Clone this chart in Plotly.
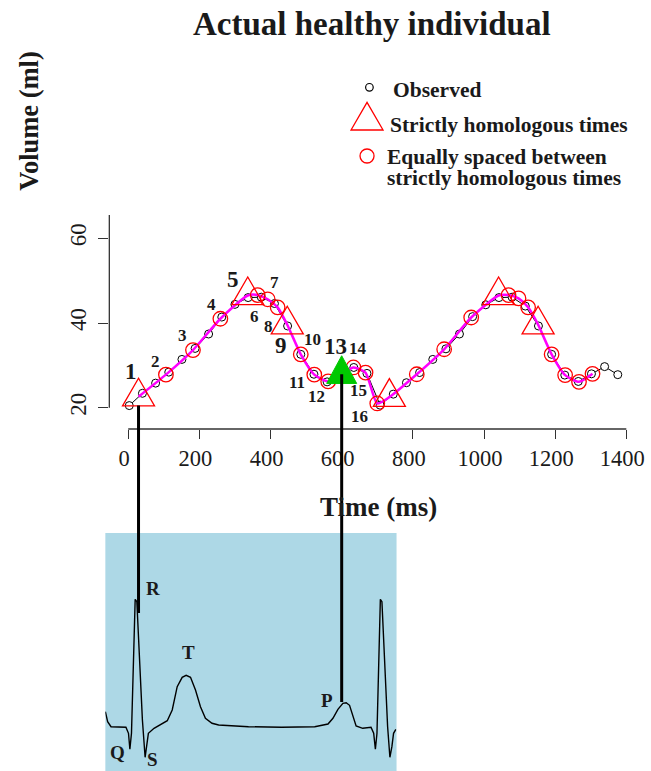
import plotly.graph_objects as go

FONT = "Liberation Serif"
W, H = 651, 771

# ---------------- data ----------------
obs_t = [3, 40, 77, 114, 151, 188, 226, 263, 300, 337, 374, 411, 448, 485, 522, 559, 597, 634, 671,
         708, 745, 782, 819, 856, 893, 931, 968, 1005, 1042, 1079, 1116, 1153, 1190, 1227, 1265, 1302,
         1339, 1376]
obs_v = [20.5, 23.4, 25.8, 28.4, 31.4, 34.0, 37.4, 41.4, 44.4, 46.0, 46.1, 44.6, 39.3, 32.6, 27.9,
         26.1, 28.0, 29.5, 28.1, 20.6, 23.2, 25.9, 28.3, 31.4, 33.9, 37.4, 41.5, 44.3, 46.0, 46.1,
         44.0, 39.3, 32.6, 27.7, 26.2, 28.0, 29.7, 27.8]

hom_t = [29, 336, 447, 734, 1041, 1152]          # strictly homologous times (red triangles)
hom_v = [22.6, 46.5, 39.6, 22.5, 46.5, 39.6]
key_t = [600]                                    # homologous time on P wave (green)
key_v = [27.9]

eq_t = [106, 182, 259, 364, 392, 420, 485, 523, 562, 633, 667, 700,
        811, 888, 964, 1069, 1097, 1124, 1190, 1228, 1267, 1305]
eq_v = [27.8, 33.6, 41.0, 46.6, 45.6, 43.7, 32.6, 27.8, 26.2, 29.5, 28.3, 21.0,
        27.9, 33.8, 41.3, 46.6, 45.8, 43.7, 32.6, 27.7, 26.1, 28.0]

point_labels = [str(i) for i in range(1, 17)]
big_labels = {"1", "5", "9", "13"}

x_ticks = [0, 200, 400, 600, 800, 1000, 1200, 1400]
y_ticks = [20, 40, 60]

ecg_t = [-64.2, -57.8, -48.3, -6.4, 0.8, 4.7, 9.2, 14.8, 19.6, 24.3, 30.7, 39.9, 47.5, 52.2, 56.7,
         72.6, 95.8, 109.8, 123.7, 137.7, 151.7, 162.8, 175.1, 189.1, 203.1, 217.0, 235.5, 254.2,
         338.0, 431.0, 524.3, 561.5, 575.4, 589.4, 603.4, 612.6, 622.1, 631.3, 640.5, 659.2, 682.4,
         689.9, 694.7, 699.2, 703.9, 708.7, 713.1, 719.8, 729.1, 735.5, 741.1, 745.8, 752.2]
ecg_v = [0.153, 0.053, 0.003, -0.003, -0.063, -0.223, -0.063, 0.737, 1.277, 1.253, 0.737, 0.07,
         -0.303, -0.197, -0.063, -0.013, 0.03, 0.063, 0.17, 0.403, 0.497, 0.517, 0.497, 0.37, 0.203,
         0.087, 0.037, 0.02, 0.003, -0.003, 0.003, 0.03, 0.087, 0.177, 0.237, 0.243, 0.217, 0.103,
         0.01, -0.013, -0.003, -0.063, -0.223, -0.063, 0.737, 1.277, 1.253, 0.737, 0.003, -0.303,
         -0.197, -0.063, -0.023]
ecg_waves = ["R", "T", "P", "Q", "S"]
ecg_wave_t = [69, 169, 560, -30, 68]
ecg_wave_v = [1.39, 0.75, 0.27, -0.25, -0.325]

link_t = [29, 600]          # vertical links volume -> ECG
link_top_v = [20.5, 27.9]
link_bot_ecg = [1.14, 0.25]

# ---------------- layout geometry ----------------
PX_MS = 0.358
X0 = 129
L, R, T, B = 110, 645, 200, 429
xr = [(L - X0) / PX_MS, (R - X0) / PX_MS]
PX_ML = 4.235
Y20 = 407.7
yr = [20 - (B - Y20) / PX_ML, 20 + (Y20 - T) / PX_ML]
xdom = [L / W, R / W]
ydom = [1 - B / H, 1 - T / H]

EL, ER, ET, EB = 106, 399, 533, 771
x2r = [(EL - X0) / PX_MS, (ER - X0) / PX_MS]
y2r = [(727 - EB) / 100, (727 - ET) / 100]
x2dom = [EL / W, ER / W]
y2dom = [1 - EB / H, 1 - ET / H]


def to_paper(v, dom, rng):
    return dom[0] + (v - rng[0]) / (rng[1] - rng[0]) * (dom[1] - dom[0])


fig = go.Figure()

# ECG
fig.add_trace(go.Scatter(x=ecg_t, y=ecg_v, mode="lines", xaxis="x2", yaxis="y2",
                         line=dict(color="black", width=1.4), hoverinfo="skip", showlegend=False))

# observed
fig.add_trace(go.Scatter(x=obs_t, y=obs_v, mode="lines+markers",
                         line=dict(color="black", width=1),
                         marker=dict(symbol="circle", size=8, color="white",
                                     line=dict(color="black", width=1)),
                         showlegend=False))

# magenta resampled curve
res = sorted(zip(hom_t + key_t + eq_t, hom_v + key_v + eq_v))
res_t = [p[0] for p in res]
res_v = [p[1] for p in res]
fig.add_trace(go.Scatter(x=res_t, y=res_v, mode="lines",
                         line=dict(color="#FF00FF", width=2.5, shape="spline", smoothing=0.6),
                         showlegend=False))

# equally spaced (red circles)
fig.add_trace(go.Scatter(x=eq_t, y=eq_v, mode="markers",
                         marker=dict(symbol="circle-open", size=14.5, color="#FF0000",
                                     line=dict(width=1.3)),
                         showlegend=False))

shapes = []
TRI = "M-16,-9.2L16,-9.2L0,18.5Z"
for t, v in zip(hom_t, hom_v):
    shapes.append(dict(type="path", xref="x", yref="y", xsizemode="pixel", ysizemode="pixel",
                       xanchor=t, yanchor=v, path=TRI, line=dict(color="#FF0000", width=1.3),
                       layer="above"))
for t, v in zip(key_t, key_v):
    shapes.append(dict(type="path", xref="x", yref="y", xsizemode="pixel", ysizemode="pixel",
                       xanchor=t, yanchor=v, path="M-15,-9.2L15,-9.2L0,18.5Z",
                       fillcolor="#00C800", line=dict(color="#00C800", width=1), layer="above"))

# axis lines (R style, only over tick range)
shapes.append(dict(type="line", xref="x", yref="paper", x0=x_ticks[0], x1=x_ticks[-1],
                   y0=ydom[0], y1=ydom[0], line=dict(color="#333", width=1.3)))
shapes.append(dict(type="line", xref="paper", yref="y", x0=xdom[0], x1=xdom[0],
                   y0=y_ticks[0], y1=65.5, line=dict(color="#333", width=1.3)))

# ECG background
shapes.append(dict(type="rect", xref="x2 domain", yref="y2 domain", x0=0, x1=1, y0=0, y1=1,
                   fillcolor="#ADD8E6", line=dict(width=0), layer="below"))

# vertical links
for t, vt, eb in zip(link_t, link_top_v, link_bot_ecg):
    shapes.append(dict(type="line", xref="x", yref="paper", x0=t, x1=t,
                       y0=to_paper(vt, ydom, yr), y1=to_paper(eb, y2dom, y2r),
                       line=dict(color="black", width=3), layer="above"))


def pxp(px, py):
    return px / W, 1 - py / H


# legend symbols
lx, ly = pxp(371.7, 87.3)
shapes.append(dict(type="circle", xref="paper", yref="paper", xsizemode="pixel", ysizemode="pixel",
                   xanchor=lx, yanchor=ly, x0=-3.8, x1=3.8, y0=-3.8, y1=3.8,
                   line=dict(color="black", width=1.2)))
lx, ly = pxp(369.3, 120.8)
shapes.append(dict(type="path", xref="paper", yref="paper", xsizemode="pixel", ysizemode="pixel",
                   xanchor=lx, yanchor=ly, path=TRI, line=dict(color="#FF0000", width=1.3)))
lx, ly = pxp(369.3, 156)
shapes.append(dict(type="circle", xref="paper", yref="paper", xsizemode="pixel", ysizemode="pixel",
                   xanchor=lx, yanchor=ly, x0=-7, x1=7, y0=-7, y1=7,
                   line=dict(color="#FF0000", width=1.3)))

annotations = []


def ann(text, px, py, size, xanchor="center", angle=0):
    x, y = pxp(px, py)
    annotations.append(dict(text=text, x=x, y=y, xref="paper", yref="paper", xanchor=xanchor,
                            yanchor="middle", showarrow=False, textangle=angle,
                            font=dict(family=FONT, size=size, color="#1a1a1a")))


ann("<b>Actual healthy individual</b>", 374, 24, 33)
ann("<b>Volume (ml)</b>", 29, 121, 26.5, angle=-90)
ann("<b>Time (ms)</b>", 381, 507, 27)
ann("<b>Observed</b>", 393, 90, 21.5, xanchor="left")
ann("<b>Strictly homologous times</b>", 390, 125, 21.5, xanchor="left")
ann("<b>Equally spaced between</b>", 387, 157, 21.5, xanchor="left")
ann("<b>strictly homologous times</b>", 387, 178, 21.5, xanchor="left")

# point number labels
label_dx = [-7.7, -10, -10, -9, -15, -3, 7, -9, -6, 12, -17, -12, -6.5, 4.4, -7, -17.6]
label_dy = [-25, -13, -15, -14, -16, 21, -17, 19, 21, -15, 8, 15, -27.5, -19, 17.5, 13.5]
for lab, t, v, dx, dy in zip(point_labels, res_t, res_v, label_dx, label_dy):
    annotations.append(dict(text="<b>%s</b>" % lab, x=t, y=v, xref="x", yref="y",
                            xshift=dx, yshift=-dy, showarrow=False,
                            font=dict(family=FONT, size=23 if lab in big_labels else 17,
                                      color="#1a1a1a")))

# ECG wave labels
for lab, t, v in zip(ecg_waves, ecg_wave_t, ecg_wave_v):
    annotations.append(dict(text="<b>%s</b>" % lab, x=t, y=v, xref="x2", yref="y2",
                            showarrow=False, font=dict(family=FONT, size=19, color="#1a1a1a")))

fig.update_layout(
    width=W, height=H, margin=dict(l=0, r=0, t=0, b=0),
    paper_bgcolor="white", plot_bgcolor="rgba(0,0,0,0)",
    showlegend=False, shapes=shapes, annotations=annotations,
    xaxis=dict(domain=xdom, range=xr, tickvals=x_ticks, showgrid=False, zeroline=False,
               showline=False, ticks="outside", ticklen=9, tickwidth=1.3, tickcolor="#333",
               ticklabeloverflow="allow", ticklabelshift=-4,
               tickfont=dict(family=FONT, size=22.5, color="#1a1a1a"), anchor="y"),
    yaxis=dict(domain=ydom, range=yr, tickvals=y_ticks, showgrid=False, zeroline=False,
               showline=False, ticks="outside", ticklen=10, tickwidth=1.3, tickcolor="#333",
               ticklabelstandoff=3,
               tickangle=-90, tickfont=dict(family=FONT, size=23, color="#1a1a1a"), anchor="x"),
    xaxis2=dict(domain=x2dom, range=x2r, visible=False, anchor="y2"),
    yaxis2=dict(domain=y2dom, range=y2r, visible=False, anchor="x2"),
)

fig.write_html(
    "out.html", config={"displayModeBar": False},
    post_script=("document.body.style.margin='0';document.body.style.overflow='hidden';"
                 "document.documentElement.style.overflow='hidden';"
                 "var gd=document.getElementById('{plot_id}');"
                 "gd.style.overflow='hidden';gd.style.width='651px';gd.style.height='771px';"
                 "gd.querySelectorAll('svg').forEach(function(s){s.style.overflow='hidden';});"))
